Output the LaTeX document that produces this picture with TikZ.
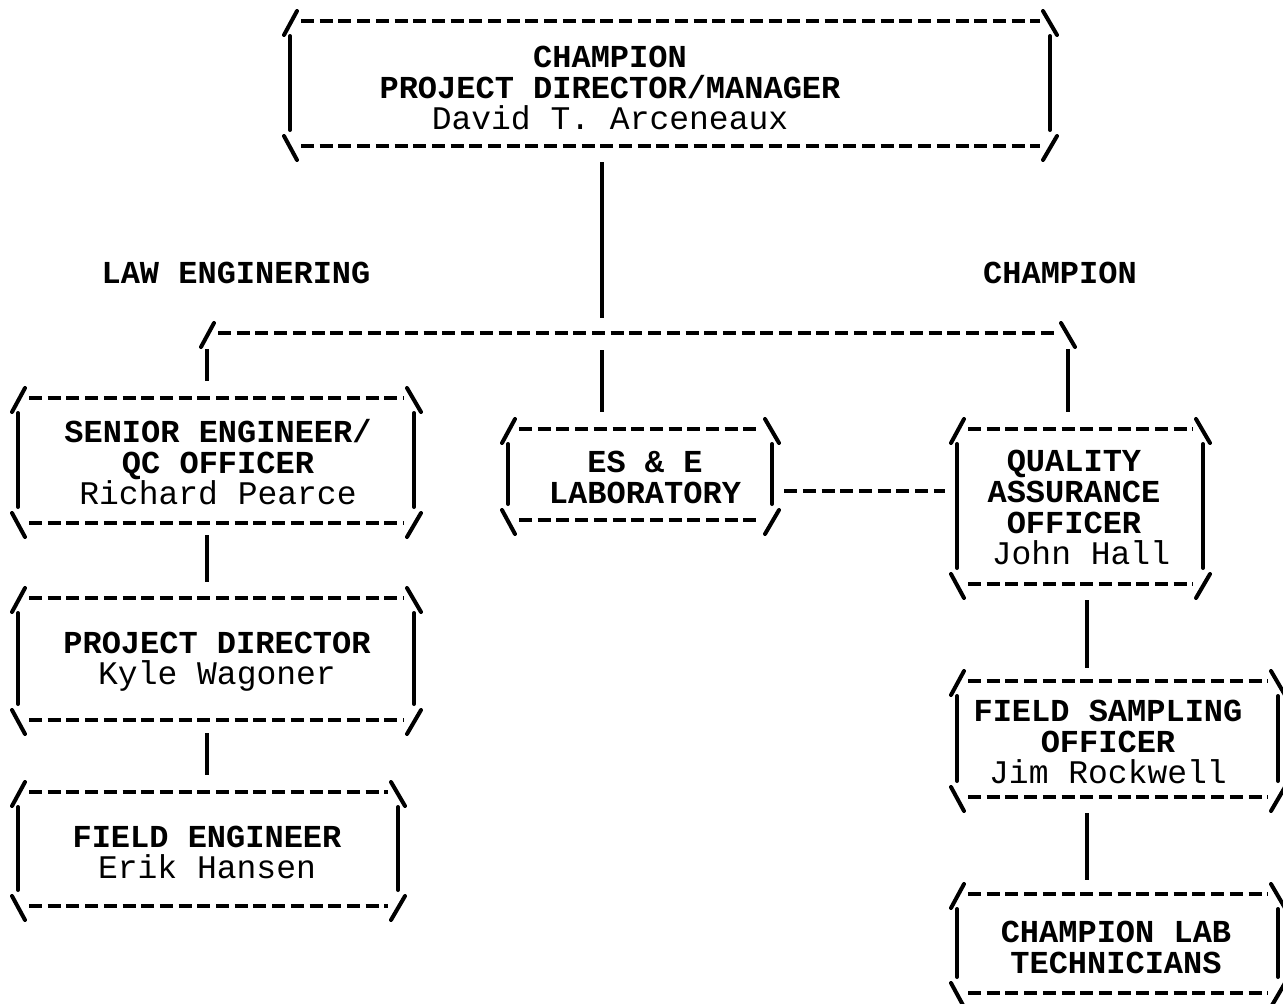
\documentclass[tikz,border=0pt]{standalone}
\usepackage{fontspec}
\newfontfamily\tyfont{Liberation Mono}
\usetikzlibrary{fit,calc}
\newcommand\tybox[5]{%
  \coordinate (#1-nw) at (#2,#3);
  \coordinate (#1-se) at (#4,#5);
  \node[fit=(#1-nw)(#1-se), inner sep=0pt] (#1) {};
  \draw[tyline] (#2-6,#3+14) -- (#2+7,#3-10);
  \draw[tyline] (#4-7,#3-10) -- (#4+7,#3+14);
  \draw[tyline] (#2-6,#5-10) -- (#2+7,#5+14);
  \draw[tyline] (#4-7,#5+14) -- (#4+7,#5-10);
  \draw[tydash] (#2+11,#3) -- (#4-10,#3);
  \draw[tydash] (#2+11,#5) -- (#4-10,#5);
  \draw[tyline] (#2,#3+15) -- (#2,#5-16);
  \draw[tyline] (#4,#3+15) -- (#4,#5-16);
}
\newcommand\nm[1]{{\fontsize{33}{31}\selectfont #1}}
\begin{document}
\begin{tikzpicture}[x=1pt,y=-1pt,
  tyline/.style={line width=4pt, line cap=round},
  tydash/.style={line width=4pt, dash pattern=on 13pt off 5.7pt},
  conn/.style={line width=4.4pt},
  lbl/.style={font=\tyfont\fontsize{32}{31}\selectfont, align=center, inner sep=0pt},
  hdr/.style={font=\tyfont\bfseries\fontsize{32}{31}\selectfont, inner sep=0pt},
]
\fill[white] (0,0) rectangle (1283,1004);
\useasboundingbox (0,0) rectangle (1283,1004);

% boxes
\tybox{top}{290}{21}{1050}{146}
\tybox{se}{18}{398}{414}{523}
\tybox{ese}{508}{429}{772}{520}
\tybox{qa}{957}{429}{1203}{584}
\tybox{pd}{18}{598}{414}{720}
\tybox{fe}{18}{792}{398}{906}
\tybox{fs}{957}{681}{1278}{797}
\tybox{cl}{957}{894}{1278}{993}

% texts
\node[lbl] (t-top) at (610,88) {\textbf{CHAMPION}\\\textbf{PROJECT DIRECTOR/MANAGER}\\\nm{David T. Arceneaux}};
\node[lbl] (t-se) at (218,462) {\textbf{SENIOR ENGINEER/}\\\textbf{QC OFFICER}\\\nm{Richard Pearce}};
\node[lbl] (t-ese) at (645,477) {\textbf{ES \& E}\\\textbf{LABORATORY}};
\node[lbl] (t-qa) at (1074,507) {\textbf{QUALITY}\\\textbf{ASSURANCE}\\\textbf{OFFICER}\\\nm{\hspace*{14pt}John Hall}};
\node[lbl] (t-pd) at (217,662) {\textbf{PROJECT DIRECTOR}\\\nm{Kyle Wagoner}};
\node[lbl] (t-fe) at (207,852) {\textbf{FIELD ENGINEER}\\\nm{Erik Hansen}};
\node[lbl] (t-fs) at (1108,742) {\textbf{FIELD SAMPLING}\\\textbf{OFFICER}\\\nm{Jim Rockwell}};
\node[lbl] (t-cl) at (1116,947) {\textbf{CHAMPION LAB}\\\textbf{TECHNICIANS}};

% headers
\node[hdr] (h-law) at (236,273) {LAW ENGINERING};
\node[hdr] (h-champ) at (1060,273) {CHAMPION};

% bus
\coordinate (bus-l) at (207,333);
\coordinate (bus-m) at (602,333);
\coordinate (bus-r) at (1068,333);
\draw[tyline] ($(bus-l)+(-6,14)$) -- ($(bus-l)+(7,-10)$);
\draw[tydash] ($(bus-l)+(11,0)$) -- ($(bus-r)+(-10,0)$);
\draw[tyline] ($(bus-r)+(-7,-10)$) -- ($(bus-r)+(7,14)$);

% connectors
\draw[conn] ($(top.south -| bus-m)+(0,16)$) -- ($(bus-m)+(0,-15)$);
\draw[conn] ($(bus-l)+(0,16)$) -- ($(se.north -| bus-l)+(0,-17)$);
\draw[conn] ($(bus-m)+(0,17)$) -- ($(ese.north -| bus-m)+(0,-17)$);
\draw[conn] ($(bus-r)+(0,16)$) -- ($(qa.north -| bus-r)+(0,-17)$);
\draw[conn] ($(se.south -| bus-l)+(0,12)$) -- ($(pd.north -| bus-l)+(0,-16)$);
\draw[conn] ($(pd.south -| bus-l)+(0,13)$) -- ($(fe.north -| bus-l)+(0,-17)$);
\draw[conn] ($(qa.south)+(7,16)$) -- ($(fs.north -| qa.south)+(7,-13)$);
\draw[conn] ($(fs.south -| qa.south)+(7,16)$) -- ($(cl.north -| qa.south)+(7,-14)$);
\draw[tydash] ($(ese.south east)+(12,-29)$) -- ($(qa.west |- ese.south)+(-12,-29)$);
\end{tikzpicture}
\end{document}
